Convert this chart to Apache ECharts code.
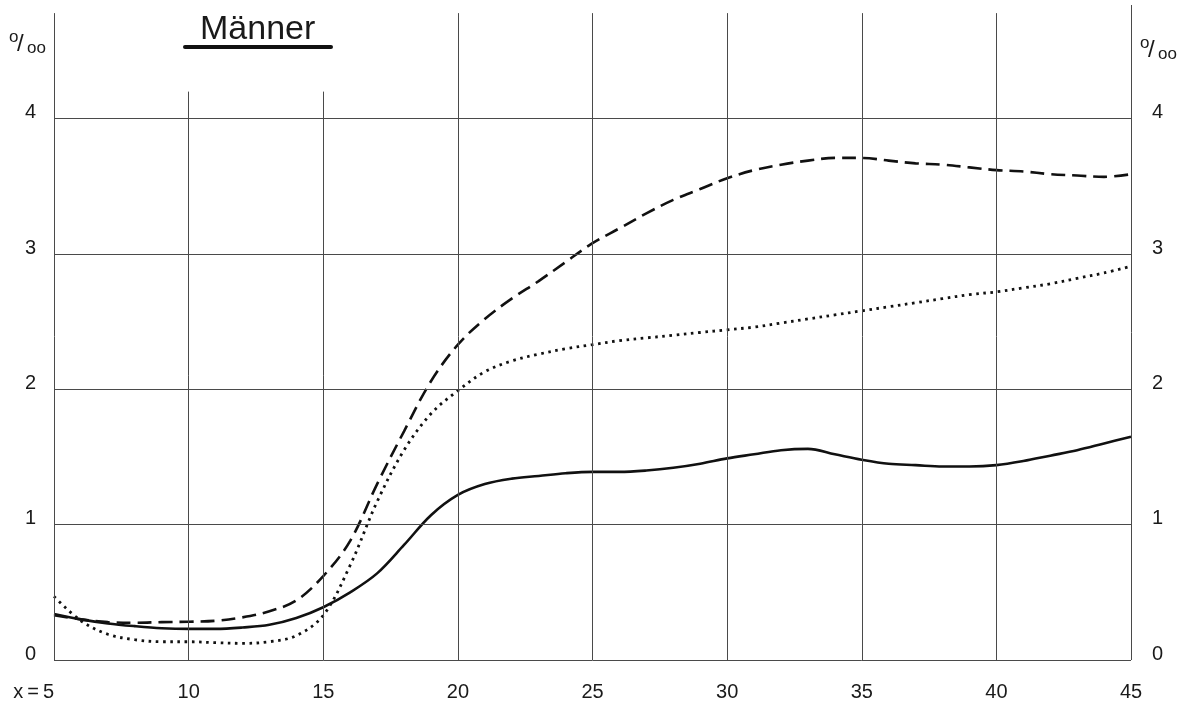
<!DOCTYPE html>
<html>
<head>
<meta charset="utf-8">
<script src="https://cdn.jsdelivr.net/npm/echarts@6/dist/echarts.min.js"></script>
<style>
  html, body { margin: 0; padding: 0; background: #fff; }
  #chart { width: 1189px; height: 702px; }
</style>
</head>
<body>
<div id="chart"></div>
<script>
// Alter x in Jahren
const ages = [5, 6, 7, 8, 9, 10, 11, 12, 13, 14, 15, 16, 17, 18, 19, 20, 21, 22, 23, 24, 25,
              26, 27, 28, 29, 30, 31, 32, 33, 34, 35, 36, 37, 38, 39, 40, 41, 42, 43, 44, 45];
const xTicks = [5, 10, 15, 20, 25, 30, 35, 40, 45];
const yTicks = [0, 1, 2, 3, 4];

// Werte in Promille
const solidValues = [0.34, 0.30, 0.27, 0.25, 0.235, 0.23, 0.23, 0.24, 0.26, 0.31, 0.39,
                     0.50, 0.64, 0.85, 1.07, 1.22, 1.30, 1.34, 1.36, 1.38, 1.39,
                     1.39, 1.40, 1.42, 1.45, 1.49, 1.52, 1.55, 1.56, 1.52, 1.48,
                     1.45, 1.44, 1.43, 1.43, 1.44, 1.47, 1.51, 1.55, 1.60, 1.65];
const dashedValues = [0.33, 0.30, 0.28, 0.275, 0.28, 0.283, 0.29, 0.315, 0.36, 0.44, 0.62,
                      0.88, 1.30, 1.69, 2.06, 2.33, 2.52, 2.67, 2.80, 2.94, 3.08,
                      3.19, 3.30, 3.40, 3.48, 3.56, 3.62, 3.66, 3.69, 3.71, 3.71,
                      3.69, 3.67, 3.66, 3.64, 3.62, 3.61, 3.59, 3.58, 3.57, 3.59];
const dottedValues = [0.47, 0.29, 0.19, 0.15, 0.135, 0.135, 0.128, 0.123, 0.135, 0.18, 0.33,
                      0.70, 1.17, 1.55, 1.82, 1.99, 2.13, 2.21, 2.26, 2.30, 2.33,
                      2.36, 2.38, 2.40, 2.42, 2.44, 2.46, 2.49, 2.52, 2.55, 2.58,
                      2.61, 2.64, 2.67, 2.70, 2.72, 2.75, 2.78, 2.82, 2.86, 2.91];

const Y_MAX = 4.84;        // frame reaches above the 4 line
const LINE_TOP = 4.78;     // upper end of the vertical grid lines
const LINE_TOP_LOW = 4.2;  // lines under the heading stop lower
const FONT = '"Liberation Sans", Arial, sans-serif';
const INK = '#1a1a1a';

const toPairs = vals => ages.map((a, i) => [a, vals[i]]);

// Raster: horizontale und vertikale Linien
const gridLines = [];
yTicks.forEach(v => {
  gridLines.push([{ coord: [xTicks[0], v] }, { coord: [xTicks[xTicks.length - 1], v] }]);
});
xTicks.forEach(v => {
  let top = LINE_TOP;
  if (v === 10 || v === 15) top = LINE_TOP_LOW;
  if (v === xTicks[xTicks.length - 1]) top = Y_MAX;
  gridLines.push([{ coord: [v, 0] }, { coord: [v, top] }]);
});

const yLabel = v => (Number.isInteger(v) && yTicks.includes(v)) ? String(v) : '';

const chart = echarts.init(document.getElementById('chart'), null, { renderer: 'canvas' });

const yLabelStyle = {
  fontSize: 20, fontFamily: FONT, color: INK,
  verticalAlign: 'bottom', lineHeight: 12, formatter: yLabel
};

const option = {
  backgroundColor: '#ffffff',
  animation: false,
  grid: { left: 54, right: 58, top: 5, bottom: 42, containLabel: false },
  xAxis: {
    type: 'value', min: 5, max: 45, interval: 5,
    axisLine: { show: false }, axisTick: { show: false }, splitLine: { show: false },
    axisLabel: {
      margin: 22, fontSize: 20, fontFamily: FONT, color: INK,
      alignMinLabel: 'right',
      formatter: v => v === 5 ? 'x\u2009=\u20095' : String(v)
    }
  },
  yAxis: [
    {
      type: 'value', min: 0, max: Y_MAX, interval: 1, position: 'left',
      axisLine: { show: false }, axisTick: { show: false }, splitLine: { show: false },
      axisLabel: Object.assign({ margin: 18 }, yLabelStyle)
    },
    {
      type: 'value', min: 0, max: Y_MAX, interval: 1, position: 'right',
      axisLine: { show: false }, axisTick: { show: false }, splitLine: { show: false },
      axisLabel: Object.assign({ margin: 21 }, yLabelStyle)
    }
  ],
  series: [
    {
      name: 'Raster', type: 'line', data: [], silent: true, z: 1,
      markLine: {
        silent: true, symbol: ['none', 'none'], label: { show: false },
        lineStyle: { color: '#4a4a4a', width: 1, type: 'solid' },
        emphasis: { disabled: true },
        data: gridLines
      }
    },
    {
      name: 'Reihe A', type: 'line', data: toPairs(solidValues), smooth: 0.35,
      showSymbol: false, z: 3,
      lineStyle: { color: '#111', width: 2.6, type: 'solid' }
    },
    {
      name: 'Reihe B', type: 'line', data: toPairs(dashedValues), smooth: 0.35,
      showSymbol: false, z: 3,
      lineStyle: { color: '#111', width: 2.6, type: [14, 7] }
    },
    {
      name: 'Reihe C', type: 'line', data: toPairs(dottedValues), smooth: 0.35,
      showSymbol: false, z: 3,
      lineStyle: { color: '#111', width: 2.8, type: [2.6, 4.6] }
    }
  ],
  graphic: [
    { type: 'text', left: 200, top: 13,
      style: { text: 'Männer', font: '34px ' + FONT, fill: INK } },
    { type: 'rect', shape: { x: 183, y: 45, width: 150, height: 4, r: 2 },
      style: { fill: '#111' } },
    // Promillezeichen links
    { type: 'text', x: 9, y: 29, style: { text: 'o', font: '17px ' + FONT, fill: INK } },
    { type: 'text', x: 17, y: 32, style: { text: '/', font: '24px ' + FONT, fill: INK } },
    { type: 'text', x: 27, y: 40, style: { text: 'oo', font: '17px ' + FONT, fill: INK } },
    // Promillezeichen rechts
    { type: 'text', x: 1140, y: 35, style: { text: 'o', font: '17px ' + FONT, fill: INK } },
    { type: 'text', x: 1148, y: 38, style: { text: '/', font: '24px ' + FONT, fill: INK } },
    { type: 'text', x: 1158, y: 46, style: { text: 'oo', font: '17px ' + FONT, fill: INK } }
  ]
};

chart.setOption(option);
</script>
</body>
</html>
